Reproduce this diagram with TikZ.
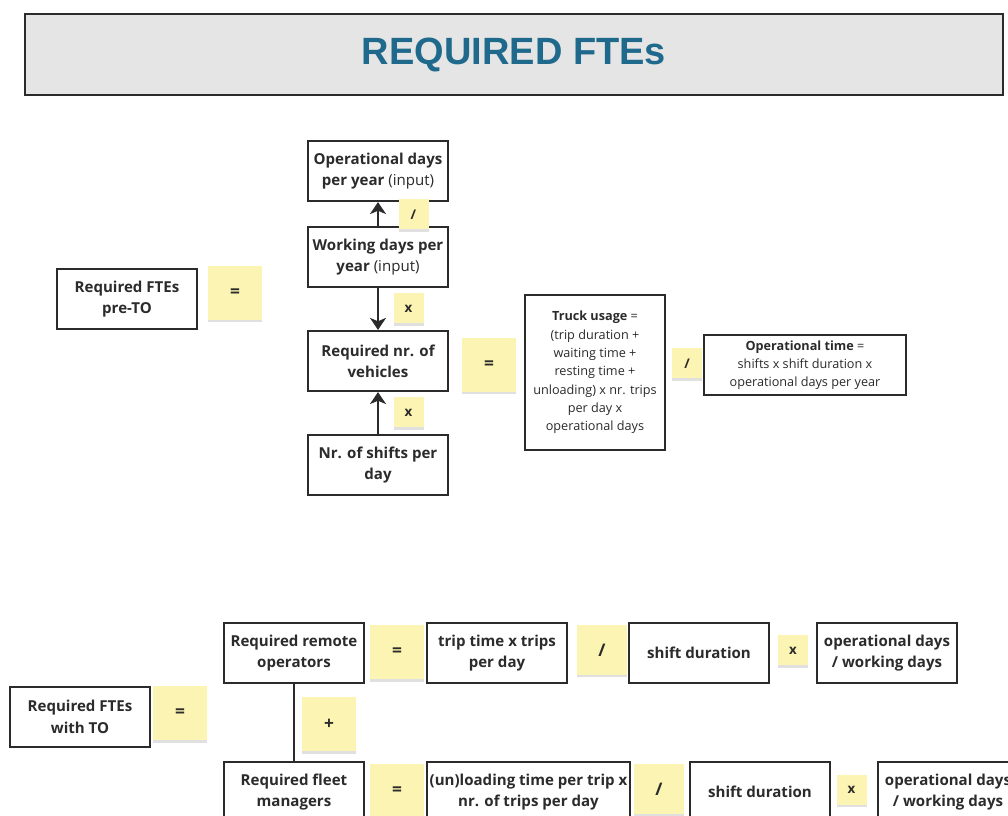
\documentclass[tikz,border=0pt]{standalone}
\usepackage{fontspec}
\setmainfont{Open Sans}
\newfontfamily\titlefont{Liberation Sans}
\usetikzlibrary{arrows.meta,shadows}
\definecolor{ink}{HTML}{2B2B2B}
\definecolor{sticky}{HTML}{FCF4B2}
\definecolor{titleblue}{HTML}{1F6A8C}
\definecolor{titlefill}{HTML}{E5E5E5}
\tikzset{
  box/.style={draw=ink, line width=1.6pt, fill=white, text=ink, align=center,
    minimum width=105pt, minimum height=45pt, inner sep=2pt,
    font=\fontsize{11.3}{16}\selectfont\bfseries},
  smallbox/.style={box, font=\fontsize{9.5}{13.7}\selectfont},
  note/.style={fill=sticky, text=ink, minimum width=40.5pt, minimum height=40.5pt,
    inner sep=0pt, font=\fontsize{13}{14}\selectfont\bfseries,
    drop shadow={shadow xshift=0pt, shadow yshift=-1.8pt, opacity=0.12, fill=black}},
  midnote/.style={note, minimum width=37.5pt, minimum height=37.5pt},
  tinynote/.style={note, minimum width=22.5pt, minimum height=22.5pt,
    font=\fontsize{10}{11}\selectfont\bfseries},
  flow/.style={draw=ink, line width=1.5pt,
    -{Stealth[length=9pt, width=12pt, inset=2.5pt]}},
  link/.style={draw=ink, line width=1.5pt}
}
\begin{document}
\begin{tikzpicture}[x=0.75pt, y=-0.75pt]
\useasboundingbox (0,0) rectangle (1008,816);
\clip (0,0) rectangle (1008,816);

% heading banner
\node (banner) [draw=ink, line width=1.5pt, fill=titlefill,
  minimum width=733.5pt, minimum height=60.75pt, inner sep=0pt,
  text=titleblue, font=\titlefont\fontsize{28.5}{30}\selectfont\bfseries]
  at (514,54.5) {REQUIRED FTEs};

% ---- FTEs before teleoperation ----
\node (preto) [box] at (127,299) {Required FTEs\\pre-TO};
\node (eqpre) [note] at (235,293) {=};

\node (opdays)  [box] at (378,171) {Operational days\\per year \mdseries(input)};
\node (workdays)[box] at (378,257) {Working days per\\year \mdseries(input)};
\node (vehicles)[box] at (378,361) {Required nr. of\\vehicles};
\node (shifts)  [box] at (378,465) {Nr. of shifts per\\day};

\draw[flow] (workdays.north) -- (opdays.south);
\draw[flow] (workdays.south) -- (vehicles.north);
\draw[flow] (shifts.north) -- (vehicles.south);

\node (divtop) [tinynote] at (413.5,214.5) {/};
\node (multop) [tinynote] at (408.5,308.5) {x};
\node (mulbot) [tinynote] at (408.5,412.5) {x};

\node (eqveh) [note] at (489,365) {=};
\node (truck) [smallbox, minimum height=116.25pt] at (595,372.5)
  {\bfseries Truck usage \mdseries=\\(trip duration +\\waiting time +\\resting time +\\unloading) x nr. trips\\per day x\\operational days};
\node (divtruck) [tinynote] at (687,363.5) {/};
\node (optime) [smallbox, minimum width=151.5pt] at (805,365)
  {\bfseries Operational time \mdseries=\\shifts x shift duration x\\operational days per year};

% ---- FTEs with teleoperation ----
\node (withto) [box] at (80,717) {Required FTEs\\with TO};
\node (eqto) [note] at (180,713.5) {=};

\node (remote) [box] at (294,653) {Required remote\\operators};
\node (fleet)  [box] at (294,792) {Required fleet\\managers};
\draw[link] (remote.south) -- (fleet.north);
\node (plus) [note] at (329,724.5) {+};

% remote operators row
\node (eqrem)  [note] at (397,652.5) {=};
\node (trip)   [box] at (497,653) {trip time x trips\\per day};
\node (divrem) [midnote] at (602,650) {/};
\node (shiftA) [box] at (699,653) {shift duration};
\node (mulrem) [tinynote] at (793,650.5) {x};
\node (daysA)  [box] at (887,653) {operational days\\/ working days};

% fleet managers row
\node (eqfl)   [note] at (397,791) {=};
\node (unload) [box, minimum width=152.25pt] at (528.5,792)
  {(un)loading time per trip x\\nr. of trips per day};
\node (divfl)  [midnote] at (659,789) {/};
\node (shiftB) [box] at (760,792) {shift duration};
\node (mulfl)  [tinynote] at (851.5,790) {x};
\node (daysB)  [box] at (948,792) {operational days\\/ working days};
\end{tikzpicture}
\end{document}
